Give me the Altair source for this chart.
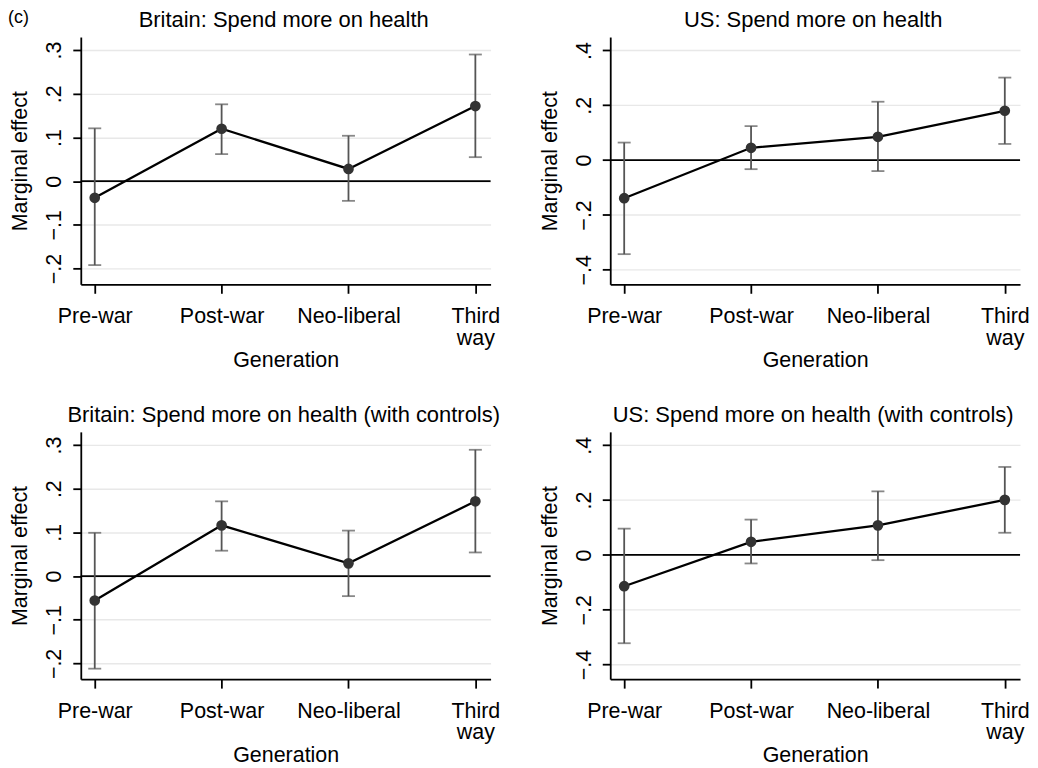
import altair as alt
import pandas as pd

FONT = "Liberation Sans"

generations = ["Pre-war", "Post-war", "Neo-liberal", "Third way"]
gen_pos = [1, 2, 3, 4]
x_tick_labels = [["Pre-war"], ["Post-war"], ["Neo-liberal"], ["Third", "way"]]

titles = ["Britain: Spend more on health",
          "US: Spend more on health",
          "Britain: Spend more on health (with controls)",
          "US: Spend more on health (with controls)"]

brit_est = [-0.038, 0.120, 0.028, 0.172]
brit_lo = [-0.192, 0.062, -0.045, 0.055]
brit_hi = [0.121, 0.176, 0.104, 0.290]

us_est = [-0.139, 0.045, 0.085, 0.180]
us_lo = [-0.343, -0.033, -0.040, 0.059]
us_hi = [0.064, 0.124, 0.213, 0.301]

britc_est = [-0.056, 0.116, 0.029, 0.171]
britc_lo = [-0.212, 0.058, -0.046, 0.054]
britc_hi = [0.099, 0.171, 0.104, 0.289]

usc_est = [-0.114, 0.048, 0.108, 0.201]
usc_lo = [-0.322, -0.031, -0.019, 0.081]
usc_hi = [0.096, 0.129, 0.232, 0.321]

brit_ticks = [-0.2, -0.1, 0, 0.1, 0.2, 0.3]
us_ticks = [-0.4, -0.2, 0, 0.2, 0.4]
brit_domain = [-0.236, 0.330]
us_domain = [-0.453, 0.449]
x_domain = [0.89, 4.12]

W, H = 411, 248
LBL = 21.5

x_label_expr = "[" + ", ".join(
    "[" + ", ".join("'" + s + "'" for s in lab) + "]" for lab in x_tick_labels
) + "][datum.value - 1]"
y_label_expr = "datum.value == 0 ? '0' : replace(format(datum.value, '.1f'), '0.', '.')"


def xenc():
    return alt.X(
        "pos:Q",
        scale=alt.Scale(domain=x_domain, nice=False, zero=False),
        axis=alt.Axis(values=gen_pos, labelExpr=x_label_expr, title="Generation",
                      grid=False, tickSize=9, labelPadding=12, titlePadding=1,
                      labelLineHeight=22, labelFlush=False, labelOverlap=False),
    )


def yenc(field, ticks, domain):
    return alt.Y(
        field,
        scale=alt.Scale(domain=domain, nice=False, zero=False),
        axis=alt.Axis(values=ticks, labelExpr=y_label_expr, title="Marginal effect",
                      grid=True, tickSize=8, labelAngle=270, labelAlign="center",
                      labelBaseline="bottom", labelPadding=7, titlePadding=12),
    )


def panel(title, est, lo, hi, ticks, domain, tag=None):
    df = pd.DataFrame({"gen": generations, "pos": gen_pos, "est": est, "lo": lo, "hi": hi})
    caps = pd.DataFrame({"pos": gen_pos + gen_pos, "est": lo + hi})
    zero = pd.DataFrame({"est": [0.0]})

    zline = alt.Chart(zero).mark_rule(color="black", strokeWidth=1.8).encode(
        y=yenc("est:Q", ticks, domain))
    bars = alt.Chart(df).mark_rule(color="#555555", strokeWidth=1.8).encode(
        x=xenc(), y=yenc("lo:Q", ticks, domain), y2="hi:Q")
    capm = alt.Chart(caps).mark_tick(color="#555555", thickness=1.8, size=13,
                                     orient="horizontal").encode(
        x=xenc(), y=yenc("est:Q", ticks, domain))
    line = alt.Chart(df).mark_line(color="black", strokeWidth=2.3).encode(
        x=xenc(), y=yenc("est:Q", ticks, domain))
    pts = alt.Chart(df).mark_circle(color="#333333", size=115, opacity=1).encode(
        x=xenc(), y=yenc("est:Q", ticks, domain))
    ttl = alt.Chart(pd.DataFrame({"t": [title]})).mark_text(
        align="center", baseline="alphabetic", fontSize=22, font=FONT, color="black"
    ).encode(text="t:N", x=alt.value(W / 2 - 2), y=alt.value(-10))
    layers = [zline, bars, capm, line, pts, ttl]
    if tag:
        txt = alt.Chart(pd.DataFrame({"t": [tag]})).mark_text(
            align="left", baseline="middle", fontSize=18, font=FONT, color="black"
        ).encode(text="t:N", x=alt.value(-73), y=alt.value(-19))
        layers.append(txt)
    return alt.layer(*layers).properties(width=W, height=H)


p1 = panel(titles[0], brit_est, brit_lo, brit_hi, brit_ticks, brit_domain, tag="(c)")
p2 = panel(titles[1], us_est, us_lo, us_hi, us_ticks, us_domain)
p3 = panel(titles[2], britc_est, britc_lo, britc_hi, brit_ticks, brit_domain)
p4 = panel(titles[3], usc_est, usc_lo, usc_hi, us_ticks, us_domain)

chart = alt.vconcat(
    alt.hconcat(p1, p2, spacing=120, bounds="flush"),
    alt.hconcat(p3, p4, spacing=120, bounds="flush"),
    spacing=396, bounds="flush",
).properties(padding=0).configure_view(stroke=None).configure_axis(
    labelFont=FONT, titleFont=FONT, labelFontSize=LBL, titleFontSize=LBL,
    labelColor="black", titleColor="black", titleFontWeight="normal",
    domainColor="black", domainWidth=1.8, tickColor="black", tickWidth=1.8,
    gridColor="#e8e8e8", gridWidth=1.4,
)

chart.save("out.html", embed_options={"renderer": "svg", "actions": False})
